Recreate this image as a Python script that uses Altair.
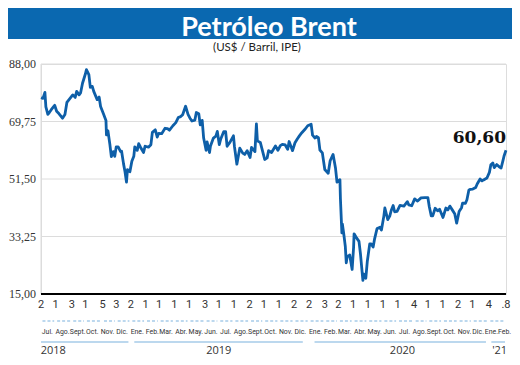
import altair as alt
import pandas as pd

# ---------------- data ----------------
dates = [
    "2018-07-02", "2018-07-06", "2018-07-10", "2018-07-12", "2018-07-16", "2018-07-19", "2018-07-23",
    "2018-07-27", "2018-07-30", "2018-08-03", "2018-08-08", "2018-08-15", "2018-08-20", "2018-08-24",
    "2018-08-28", "2018-09-05", "2018-09-10", "2018-09-13", "2018-09-18", "2018-09-21", "2018-09-25",
    "2018-10-01", "2018-10-03", "2018-10-08", "2018-10-11", "2018-10-15", "2018-10-18", "2018-10-25",
    "2018-10-29", "2018-11-01", "2018-11-07", "2018-11-12", "2018-11-13", "2018-11-16", "2018-11-20",
    "2018-11-23", "2018-11-27", "2018-11-30", "2018-12-03", "2018-12-07", "2018-12-12", "2018-12-14",
    "2018-12-18", "2018-12-21", "2018-12-24", "2018-12-26", "2018-12-31", "2019-01-04", "2019-01-08",
    "2019-01-10", "2019-01-15", "2019-01-18", "2019-01-22", "2019-01-28", "2019-01-31", "2019-02-07",
    "2019-02-12", "2019-02-15", "2019-02-21", "2019-02-25", "2019-02-28", "2019-03-06", "2019-03-13",
    "2019-03-18", "2019-03-22", "2019-03-29", "2019-04-04", "2019-04-09", "2019-04-14", "2019-04-18",
    "2019-04-24", "2019-04-29", "2019-05-03", "2019-05-07", "2019-05-13", "2019-05-16", "2019-05-21",
    "2019-05-24", "2019-05-28", "2019-05-31", "2019-06-05", "2019-06-07", "2019-06-12", "2019-06-14",
    "2019-06-20", "2019-06-25", "2019-06-28", "2019-07-02", "2019-07-05", "2019-07-11", "2019-07-15",
    "2019-07-18", "2019-07-24", "2019-07-31", "2019-08-02", "2019-08-07", "2019-08-13", "2019-08-19",
    "2019-08-23", "2019-08-28", "2019-09-03", "2019-09-06", "2019-09-13", "2019-09-16", "2019-09-18",
    "2019-09-24", "2019-10-01", "2019-10-03", "2019-10-08", "2019-10-11", "2019-10-17", "2019-10-25",
    "2019-10-30", "2019-11-04", "2019-11-08", "2019-11-14", "2019-11-19", "2019-11-22", "2019-11-29",
    "2019-12-04", "2019-12-09", "2019-12-13", "2019-12-18", "2019-12-24", "2019-12-30", "2020-01-06",
    "2020-01-09", "2020-01-14", "2020-01-17", "2020-01-21", "2020-01-24", "2020-01-29", "2020-02-03",
    "2020-02-10", "2020-02-14", "2020-02-20", "2020-02-25", "2020-02-28", "2020-03-05", "2020-03-06",
    "2020-03-09", "2020-03-10", "2020-03-13", "2020-03-16", "2020-03-18", "2020-03-20", "2020-03-23",
    "2020-03-25", "2020-03-30", "2020-04-02", "2020-04-03", "2020-04-08", "2020-04-13", "2020-04-16",
    "2020-04-21", "2020-04-23", "2020-04-27", "2020-04-30", "2020-05-05", "2020-05-08", "2020-05-12",
    "2020-05-15", "2020-05-20", "2020-05-26", "2020-05-29", "2020-06-03", "2020-06-05", "2020-06-11",
    "2020-06-15", "2020-06-18", "2020-06-22", "2020-06-25", "2020-06-30", "2020-07-06", "2020-07-14",
    "2020-07-21", "2020-07-24", "2020-07-30", "2020-08-05", "2020-08-11", "2020-08-18", "2020-08-26",
    "2020-09-01", "2020-09-04", "2020-09-08", "2020-09-11", "2020-09-16", "2020-09-21", "2020-09-25",
    "2020-10-02", "2020-10-08", "2020-10-12", "2020-10-16", "2020-10-21", "2020-10-26", "2020-10-30",
    "2020-11-04", "2020-11-09", "2020-11-11", "2020-11-17", "2020-11-20", "2020-11-24", "2020-11-27",
    "2020-12-02", "2020-12-08", "2020-12-11", "2020-12-17", "2020-12-21", "2020-12-24", "2020-12-31",
    "2021-01-05", "2021-01-08", "2021-01-12", "2021-01-15", "2021-01-20", "2021-01-25", "2021-01-29",
    "2021-02-02", "2021-02-04", "2021-02-08",
]
prices = [
    77.3, 77.1, 79.0, 74.4, 72.0, 72.6, 73.5,
    74.3, 74.9, 73.0, 72.2, 70.8, 72.0, 75.8,
    76.6, 78.2, 77.4, 79.3, 78.2, 78.8, 81.9,
    84.9, 86.2, 84.6, 80.6, 80.9, 79.3, 76.7,
    77.5, 74.5, 72.1, 70.1, 65.5, 66.8, 62.5,
    58.6, 60.2, 58.7, 61.7, 61.7, 60.2, 60.3,
    56.3, 53.8, 50.5, 54.5, 53.8, 57.1, 58.7,
    61.7, 60.6, 62.7, 61.5, 59.9, 61.9, 61.6,
    62.4, 66.3, 67.1, 64.8, 66.0, 65.9, 67.6,
    67.5, 67.0, 68.4, 69.4, 71.0, 71.3, 71.9,
    74.6, 72.0, 70.8, 69.9, 70.2, 72.6, 72.2,
    68.7, 70.1, 64.5, 60.6, 63.3, 59.9, 62.0,
    64.5, 65.1, 66.6, 62.4, 64.2, 66.5, 66.5,
    61.9, 63.2, 65.2, 61.9, 56.2, 61.3, 59.7,
    59.3, 60.5, 58.3, 61.5, 60.2, 69.0, 63.6,
    63.1, 58.9, 57.7, 58.2, 60.5, 59.9, 62.0,
    60.6, 62.1, 62.5, 62.3, 60.9, 63.4, 60.5,
    63.0, 64.3, 65.2, 66.2, 67.2, 68.4, 68.9,
    65.4, 64.5, 65.0, 64.6, 60.7, 59.8, 54.5,
    53.3, 57.3, 59.3, 54.9, 50.5, 51.3, 45.3,
    34.4, 37.2, 33.9, 30.1, 24.9, 27.0, 27.0,
    27.4, 22.8, 29.9, 34.1, 32.8, 31.7, 27.8,
    19.3, 21.3, 20.0, 25.3, 30.9, 30.9, 29.9,
    32.5, 35.8, 36.2, 35.3, 39.8, 42.3, 38.6,
    39.7, 41.5, 43.1, 41.1, 41.2, 43.1, 42.9,
    44.3, 43.3, 43.0, 45.2, 44.5, 45.5, 45.6,
    45.6, 42.7, 39.8, 39.8, 42.2, 41.4, 41.9,
    39.3, 42.3, 41.7, 42.9, 41.7, 40.5, 37.5,
    41.2, 42.4, 43.8, 43.8, 44.9, 48.0, 48.2,
    48.3, 48.8, 49.9, 51.5, 50.9, 51.2, 51.8,
    53.6, 56.0, 56.6, 55.1, 56.1, 55.4, 55.0,
    57.5, 58.8, 60.6,
]

y_ticks = [15.0, 33.25, 51.5, 69.75, 88.0]

month_names = ["Ene.", "Feb.", "Mar.", "Abr.", "May.", "Jun.", "Jul.", "Ago.",
               "Sept.", "Oct.", "Nov.", "Dic."]
axis_years = [2018] * 6 + [2019] * 12 + [2020] * 12 + [2021] * 2
axis_months = list(range(7, 13)) + list(range(1, 13)) * 2 + [1, 2]
first_day_labels = ["2", "1", "3", "1", "5", "3",
                    "2", "1", "1", "1", "1", "3", "1", "1", "2", "1", "1", "2",
                    "2", "3", "2", "1", "1", "1", "1", "4", "1", "1", "2", "1",
                    "4", ".8"]
# label anchor day inside each month (the last months are squeezed)
label_day_override = {(2020, 12): 13, (2021, 1): 9, (2021, 2): 5}

year_labels = ["2018", "2019", "2020", "'21"]
year_label_dates = ["2018-07-27", "2019-07-01", "2020-07-11", "2021-01-26"]
year_line_start = ["2018-07-02", "2019-01-09", "2020-01-13", "2021-01-09"]
year_line_end = ["2018-12-28", "2019-12-20", "2020-12-29", "2021-02-06"]

# ---------------- tables ----------------
series = pd.DataFrame({"date": pd.to_datetime(dates), "price": prices})
last = series.tail(1).copy()
last["label"] = last["price"].map(lambda v: f"{v:.2f}".replace(".", ","))

ydf = pd.DataFrame({"v": y_ticks,
                    "label": [f"{v:.2f}".replace(".", ",") for v in y_ticks]})

tick_dates = [pd.Timestamp(y, m, int(l.strip("."))) for y, m, l in
              zip(axis_years, axis_months, first_day_labels)]
ticks_df = pd.DataFrame({"date": tick_dates, "label": first_day_labels})

dash_rows = []
for i in range(len(tick_dates) - 1):
    dash_rows.append({"start": tick_dates[i] + pd.Timedelta(days=3),
                      "end": tick_dates[i + 1] - pd.Timedelta(days=3)})
dash_df = pd.DataFrame(dash_rows)

mid_dates = [pd.Timestamp(y, m, label_day_override.get((y, m), 15))
             for y, m in zip(axis_years, axis_months)]
months_df = pd.DataFrame({"date": mid_dates,
                          "label": [month_names[m - 1] for m in axis_months]})

years_df = pd.DataFrame({"date": pd.to_datetime(year_label_dates), "label": year_labels,
                         "start": pd.to_datetime(year_line_start),
                         "end": pd.to_datetime(year_line_end)})

one = pd.DataFrame({"a": [0]})

# ---------------- chart ----------------
BLUE = "#0a68b0"
LINE = "#0e5fa8"
LIGHT = "#a6cbe9"
GRID = "#dcdcdc"
W, H = 465, 230

x_scale = alt.Scale(domain=[alt.DateTime(year=2018, month=7, date=2),
                            alt.DateTime(year=2021, month=2, date=8)])
y_scale = alt.Scale(domain=[15, 88], nice=False, zero=False)

banner = alt.Chart(one).mark_rect(color=BLUE).encode(
    x=alt.value(-33), x2=alt.value(471), y=alt.value(-56), y2=alt.value(-25))
title = alt.Chart(one).mark_text(
    text="Petróleo Brent", font="Lato", fontSize=27, fontWeight="bold",
    color="white", align="center", baseline="alphabetic").encode(
    x=alt.value(228), y=alt.value(-28.5))
subtitle = alt.Chart(one).mark_text(
    text="(US$ / Barril, IPE)", font="Lato", fontSize=11.5, color="#222",
    align="center", baseline="middle").encode(
    x=alt.value(216), y=alt.value(-16))

grid = alt.Chart(ydf).mark_rule(color=GRID, strokeWidth=1).encode(
    y=alt.Y("v:Q", scale=y_scale, axis=None), x=alt.value(0), x2=alt.value(W))
left_line = alt.Chart(one).mark_rule(color=GRID, strokeWidth=1).encode(
    x=alt.value(0), y=alt.value(0), y2=alt.value(H))
ylabels = alt.Chart(ydf).mark_text(
    font="Liberation Serif", fontSize=12, color="#333", align="right",
    baseline="middle").encode(
    y=alt.Y("v:Q", scale=y_scale, axis=None), x=alt.value(-5), text="label:N")

line = alt.Chart(series).mark_line(color=LINE, strokeWidth=2.8, strokeJoin="round").encode(
    x=alt.X("date:T", scale=x_scale, axis=None),
    y=alt.Y("price:Q", scale=y_scale, axis=None),
)

bottom_line = alt.Chart(one).mark_rule(color="black", strokeWidth=2).encode(
    x=alt.value(0), x2=alt.value(W), y=alt.value(H))

end_label = alt.Chart(last).mark_text(
    font="DejaVu Serif", fontSize=17, fontWeight="bold", color="#111",
    align="right", baseline="alphabetic", dy=-7).encode(
    x=alt.X("date:T", scale=x_scale, axis=None),
    y=alt.Y("price:Q", scale=y_scale, axis=None),
    text="label:N")

digits = alt.Chart(ticks_df).mark_text(
    font="Roboto", fontSize=11, color="#333", baseline="middle").encode(
    x=alt.X("date:T", scale=x_scale, axis=None), y=alt.value(241), text="label:N")

dashes = alt.Chart(dash_df).mark_rule(color=LIGHT, strokeWidth=1.5, strokeDash=[3, 2]).encode(
    x=alt.X("start:T", scale=x_scale, axis=None), x2="end:T", y=alt.value(257))

months = alt.Chart(months_df).mark_text(
    font="Roboto", fontSize=6.9, color="#333", baseline="middle").encode(
    x=alt.X("date:T", scale=x_scale, axis=None), y=alt.value(268), text="label:N")

year_lines = alt.Chart(years_df).mark_rule(color=LIGHT, strokeWidth=1.5).encode(
    x=alt.X("start:T", scale=x_scale, axis=None), x2="end:T", y=alt.value(278))

years = alt.Chart(years_df).mark_text(
    font="Open Sans", fontSize=11, color="#333", baseline="middle").encode(
    x=alt.X("date:T", scale=x_scale, axis=None), y=alt.value(287), text="label:N")

chart = alt.layer(
    banner, title, subtitle, grid, left_line, ylabels, line, bottom_line, end_label,
    digits, dashes, months, year_lines, years
).properties(
    width=W, height=H,
    padding={"left": 33, "top": 56, "right": 6, "bottom": 63},
    autosize=alt.AutoSizeParams(type="none"),
).configure_view(stroke=None).configure(background="white")

chart.save("out.html", embed_options={"renderer": "svg", "actions": False})
